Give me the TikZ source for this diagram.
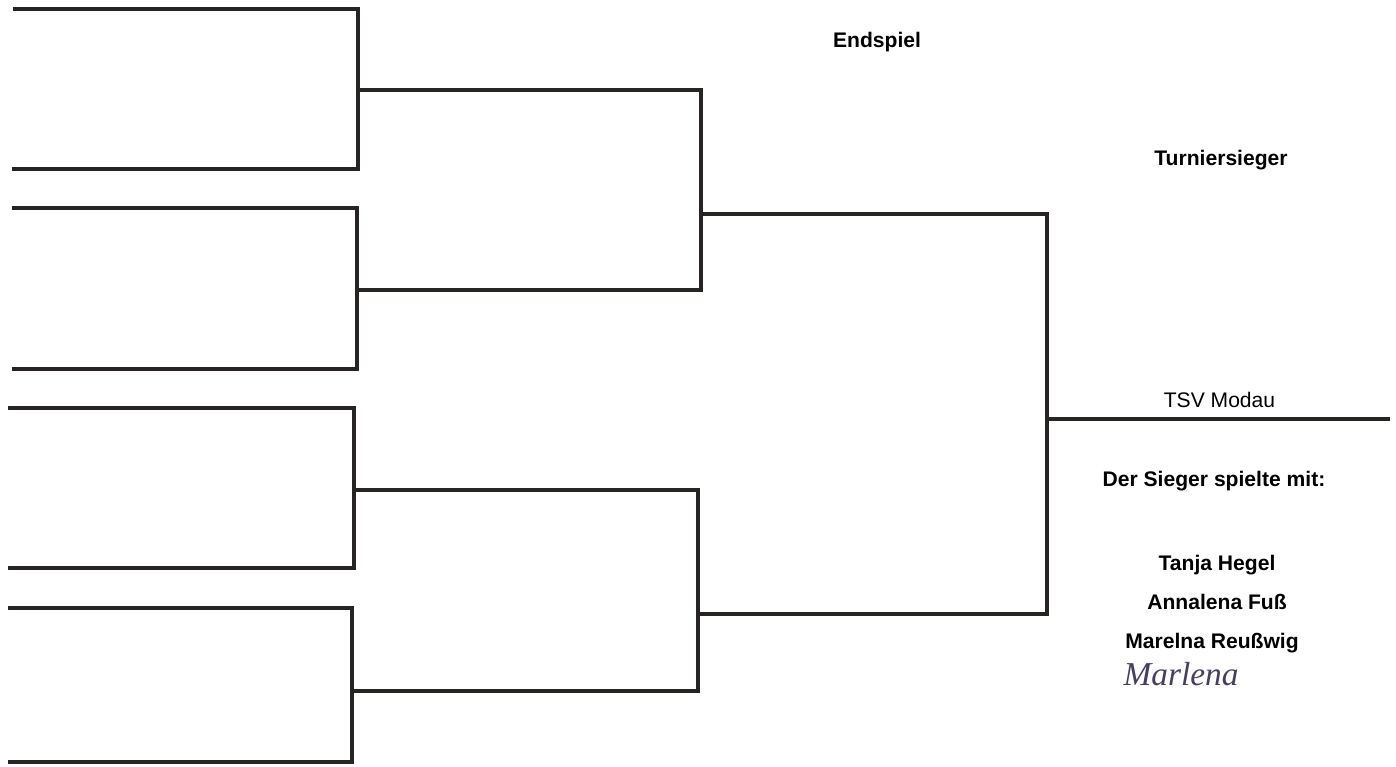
\documentclass[tikz,border=0pt]{standalone}
\usepackage{fontspec}
\setmainfont{Liberation Sans}
\newfontfamily\handfont{Liberation Serif}
\usepackage{xcolor}
\usepackage{tikz}
\usetikzlibrary{calc,positioning}

\definecolor{inkline}{RGB}{40,36,36}
\definecolor{penink}{RGB}{72,62,96}

\begin{document}
\begin{tikzpicture}[
        bracket/.style={draw=inkline, line width=2.1pt, line join=miter},
        nametext/.style={font=\fontsize{12}{14}\selectfont\bfseries, inner sep=1pt}
    ]
        \useasboundingbox (0,0) rectangle (27.92,-15.32);

        % First round: entry lines
        \coordinate (e1) at (0.26,-0.18);
        \coordinate (e2) at (0.24,-3.38);
        \coordinate (e3) at (0.24,-4.16);
        \coordinate (e4) at (0.24,-7.38);
        \coordinate (e5) at (0.16,-8.16);
        \coordinate (e6) at (0.16,-11.36);
        \coordinate (e7) at (0.16,-12.16);
        \coordinate (e8) at (0.16,-15.24);

        % Joins of the first round
        \coordinate (r1) at (7.16,-1.80);
        \coordinate (r2) at (7.14,-5.80);
        \coordinate (r3) at (7.08,-9.80);
        \coordinate (r4) at (7.04,-13.82);

        % Joins of the second round
        \coordinate (s1) at (14.02,-4.28);
        \coordinate (s2) at (13.96,-12.28);

        % Final and winner line
        \coordinate (fin) at (20.94,-8.38);
        \coordinate (win) at (27.80,-8.38);

        \draw[bracket] (e1) -| (r1) |- (e2);
        \draw[bracket] (e3) -| (r2) |- (e4);
        \draw[bracket] (e5) -| (r3) |- (e6);
        \draw[bracket] (e7) -| (r4) |- (e8);

        \draw[bracket] (r1) -| (s1) |- (r2);
        \draw[bracket] (r3) -| (s2) |- (r4);

        \draw[bracket] (s1) -| (fin) |- (s2);
        \draw[bracket] (fin) -- (win);

        % Headings
        \node[nametext] (endspiel) at (17.54,-0.84) {Endspiel};
        \node[nametext] (sieger) at (24.42,-3.20) {Turniersieger};

        % Winner and team
        \node[font=\fontsize{12}{14}\selectfont, inner sep=1pt] (team) at (24.39,-8.00) {TSV Modau};
        \node[nametext] (mit) at (24.28,-9.62) {Der Sieger spielte mit:};
        \node[nametext] (tanja) at (24.34,-11.30) {Tanja Hegel};
        \node[nametext] (anna) at (24.34,-12.04) {Annalena Fuß};
        \node[nametext] (marl) at (24.24,-12.86) {Marelna Reußwig};
        \node[font=\fontsize{19}{21}\selectfont\handfont\itshape, text=penink, inner sep=1pt] (hand) at (23.62,-13.48) {Marlena};

    \end{tikzpicture}
\end{document}
